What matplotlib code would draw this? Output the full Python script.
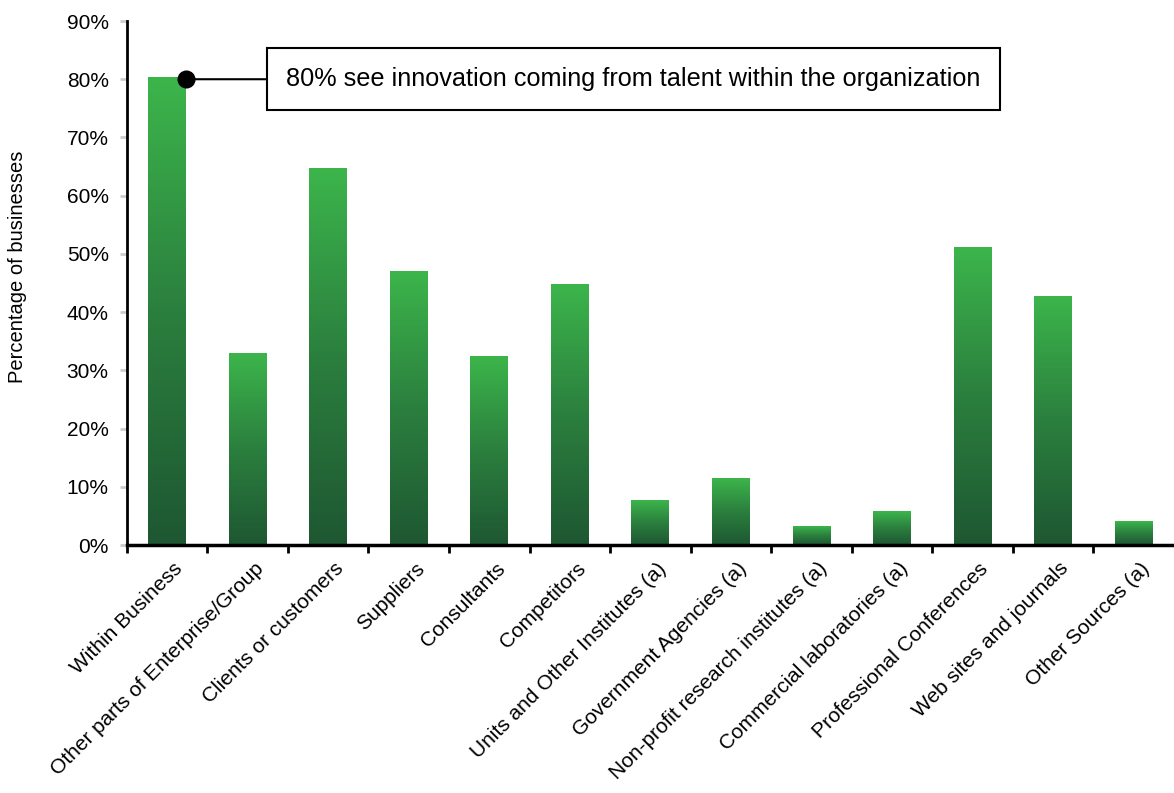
import numpy as np
import matplotlib
matplotlib.use("Agg")
import matplotlib.pyplot as plt
from matplotlib.colors import LinearSegmentedColormap
from matplotlib.ticker import FixedLocator, PercentFormatter
import matplotlib.transforms as mtransforms

plt.rcParams['font.family'] = ['Liberation Sans', 'DejaVu Sans']

# sources of innovation and share of businesses using each
sources = [
    "Within Business",
    "Other parts of Enterprise/Group",
    "Clients or customers",
    "Suppliers",
    "Consultants",
    "Competitors",
    "Units and Other Institutes (a)",
    "Government Agencies (a)",
    "Non-profit research institutes (a)",
    "Commercial laboratories (a)",
    "Professional Conferences",
    "Web sites and journals",
    "Other Sources (a)",
]
share = [80.3, 32.9, 64.6, 46.9, 32.3, 44.8, 7.7, 11.5, 3.1, 5.7, 51.1, 42.7, 4.0]
callout_value = 80
callout = "80% see innovation coming from talent within the organization"

fig = plt.figure(figsize=(11.74, 7.93), dpi=100)
ax = fig.add_axes([0.108, 0.3127, 0.892, 0.6608])

green = LinearSegmentedColormap.from_list("g", ["#1e5732", "#2b7f3e", "#3cb54b"])
grad = np.linspace(0, 1, 256).reshape(-1, 1)

x = np.arange(len(sources))
w = 0.47
for xi, v in zip(x, share):
    ax.imshow(grad, extent=[xi - w / 2, xi + w / 2, 0, v], origin="lower",
              aspect="auto", cmap=green, interpolation="bicubic", zorder=2)

ax.set_xlim(-0.5, len(sources) - 0.5)
ax.set_ylim(0, 90)

ax.yaxis.set_major_locator(FixedLocator(np.arange(0, 91, 10)))
ax.yaxis.set_major_formatter(PercentFormatter(decimals=0))
ax.tick_params(axis="y", length=5, width=2, color="#cccccc", labelsize=15, pad=8)
ax.set_ylabel("Percentage of businesses", fontsize=14.5)
ax.yaxis.set_label_coords(-0.095, 0.53)

# labels sit under the bars, tick marks sit between them
ax.set_xticks(x)
ax.set_xticklabels(sources, rotation=45, ha="right", va="top",
                   rotation_mode="anchor", fontsize=15)
ax.tick_params(axis="x", which="major", length=0, pad=10)
ax.set_xticks(np.arange(len(sources)) - 0.5, minor=True)
ax.tick_params(axis="x", which="minor", length=6, width=2, color="black")
shift = mtransforms.ScaledTranslation(6 / 100, 0, fig.dpi_scale_trans)
for lab in ax.get_xticklabels():
    lab.set_transform(lab.get_transform() + shift)

for s in ["top", "right"]:
    ax.spines[s].set_visible(False)
ax.spines["left"].set_linewidth(2)
ax.spines["bottom"].set_linewidth(2.5)

# callout on the first bar
ax.plot([w / 2], [callout_value], "o", color="black", markersize=12, zorder=5,
        clip_on=False)
ax.annotate(callout, xy=(w / 2, callout_value), xytext=(1.48, callout_value),
            fontsize=18.2, va="center", ha="left",
            bbox=dict(boxstyle="square,pad=0.75", fc="white", ec="black", lw=1.5),
            arrowprops=dict(arrowstyle="-", color="black", lw=1.5,
                            shrinkA=0, shrinkB=0), zorder=4)

fig.savefig("out.png", dpi=100)
